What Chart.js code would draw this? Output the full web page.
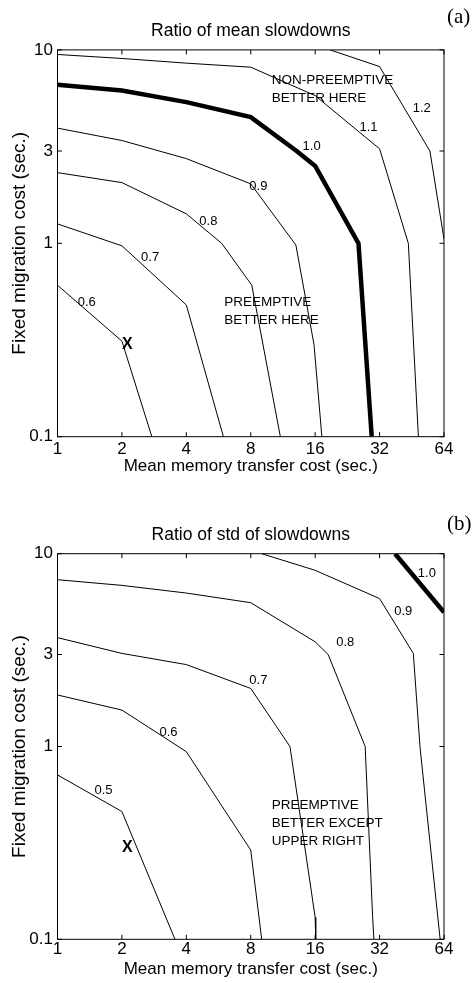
<!DOCTYPE html>
<html>
<head>
<meta charset="utf-8">
<script src="https://cdn.jsdelivr.net/npm/chart.js@4.4.0/dist/chart.umd.min.js"></script>
<style>
  html, body { margin: 0; padding: 0; background: #fff; overflow: hidden; }
  .panel { position: absolute; left: 0; width: 475px; }
  #panelA { top: 0; height: 490px; }
  #panelB { top: 490px; height: 493px; }
</style>
</head>
<body>
<div class="panel" id="panelA"><canvas id="meanChart"></canvas></div>
<div class="panel" id="panelB"><canvas id="stdChart"></canvas></div>
<script>
// axis ticks (both axes logarithmic)
const transferTicks = [1, 2, 4, 8, 16, 32, 64];
const migrationTicks = [0.1, 1, 3, 10];

// (a) ratio of mean slowdowns, contour lines as [transfer, migration] points
const meanLevels = [0.6, 0.7, 0.8, 0.9, 1.0, 1.1, 1.2];
const mean06 = [[1, 0.607], [2, 0.312], [2.76, 0.1]];
const mean07 = [[1, 1.26], [2, 0.97], [4, 0.48], [5.96, 0.1]];
const mean08 = [[1, 2.32], [2, 2.06], [4, 1.42], [5.85, 1], [8.09, 0.607], [11, 0.1]];
const mean09 = [[1, 3.94], [2, 3.4], [4, 2.74], [8, 2.03], [13, 0.98], [15.8, 0.3], [17.2, 0.1]];
const mean10 = [[1, 6.6], [2, 6.17], [4, 5.37], [8, 4.49], [13.1, 3], [16, 2.51], [25.5, 1], [29.4, 0.1]];
const mean11 = [[1, 9.47], [2, 9.03], [4, 8.54], [8, 8.14], [16, 5.8], [32, 3.08], [43.6, 1], [48.6, 0.1]];
const mean12 = [[18.8, 10], [32, 8.2], [55, 3], [64, 1.05]];

// (b) ratio of std of slowdowns
const stdLevels = [0.5, 0.6, 0.7, 0.8, 0.9, 1.0];
const std05 = [[1, 0.712], [2, 0.46], [3.54, 0.1]];
const std06 = [[1, 1.85], [2, 1.545], [4, 0.94], [8, 0.29], [9, 0.1]];
const std07 = [[1, 3.67], [2, 3.04], [4, 2.66], [8, 2.0], [12.2, 1], [16, 0.13], [16.1, 0.1]];
const std08 = [[1, 7.33], [2, 6.85], [4, 6.25], [8, 5.57], [16, 3.49], [18.4, 3], [27.4, 1], [29.7, 0.13], [30.1, 0.1]];
const std09 = [[9, 10], [16, 8.2], [32, 5.85], [46, 3.04], [49.5, 0.98], [61.4, 0.1]];
const std10 = [[37.8, 10], [64, 4.97]];

// operating point marked with an X in both panels
const operatingPoint = [2.12, 0.3];

const FONT = "'Liberation Sans', Arial, Helvetica, sans-serif";
Chart.defaults.font.family = FONT;
Chart.defaults.color = '#000';

// box with inward tick marks on all four sides, plus contour labels and notes
const framePlugin = {
  id: 'frame',
  afterDatasetsDraw(chart, args, opts) {
    const { ctx, chartArea: a, scales: { x, y } } = chart;
    ctx.save();
    ctx.strokeStyle = '#000';
    ctx.lineWidth = 1;
    ctx.strokeRect(a.left, a.top, a.right - a.left, a.bottom - a.top);
    ctx.beginPath();
    x.ticks.forEach(t => {
      const px = x.getPixelForValue(t.value);
      ctx.moveTo(px, a.bottom); ctx.lineTo(px, a.bottom - 4.5);
      ctx.moveTo(px, a.top); ctx.lineTo(px, a.top + 4.5);
    });
    y.ticks.forEach(t => {
      const py = y.getPixelForValue(t.value);
      ctx.moveTo(a.left, py); ctx.lineTo(a.left + 4.5, py);
      ctx.moveTo(a.right, py); ctx.lineTo(a.right - 4.5, py);
    });
    ctx.stroke();

    ctx.fillStyle = '#000';
    ctx.textBaseline = 'middle';

    // level labels beside each contour
    ctx.font = '13px ' + FONT;
    ctx.textAlign = 'center';
    opts.levels.forEach((lv, i) => {
      const [vx, vy] = opts.labelSpots[i];
      ctx.fillText(lv.toFixed(1), x.getPixelForValue(vx), y.getPixelForValue(vy));
    });

    // region notes
    ctx.font = '13.5px ' + FONT;
    ctx.textAlign = 'left';
    opts.notes.forEach(n => {
      ctx.fillText(n.text, x.getPixelForValue(n.at[0]), y.getPixelForValue(n.at[1]));
    });

    // operating point
    ctx.font = 'bold 16px ' + FONT;
    ctx.textAlign = 'center';
    ctx.fillText('X', x.getPixelForValue(operatingPoint[0]), y.getPixelForValue(operatingPoint[1]));

    // panel tag
    ctx.font = "21px 'Liberation Serif', 'Times New Roman', serif";
    ctx.textAlign = 'left';
    ctx.fillText(opts.tag, 447, opts.tagY);
    ctx.restore();
  }
};

function contourSets(levels, lines) {
  return lines.map((pts, i) => ({
    label: levels[i].toFixed(1),
    data: pts.map(p => ({ x: p[0], y: p[1] })),
    showLine: true,
    pointRadius: 0,
    borderColor: '#000',
    borderWidth: levels[i] === 1.0 ? 4.5 : 1,
    tension: 0,
    fill: false
  }));
}

function makeChart(id, cfg) {
  return new Chart(document.getElementById(id).getContext('2d'), {
    type: 'scatter',
    data: { datasets: contourSets(cfg.levels, cfg.lines) },
    options: {
      responsive: true,
      maintainAspectRatio: false,
      animation: false,
      layout: { padding: { left: 0, right: 31, top: 0, bottom: cfg.padBottom } },
      plugins: {
        legend: { display: false },
        tooltip: { enabled: false },
        title: {
          display: true,
          text: cfg.title,
          fullSize: false,
          color: '#000',
          font: { size: 17.5, weight: 'normal' },
          padding: { top: cfg.titleTop, bottom: 8 }
        },
        frame: { levels: cfg.levels, labelSpots: cfg.labelSpots, notes: cfg.notes, tag: cfg.tag, tagY: cfg.tagY }
      },
      scales: {
        x: {
          type: 'logarithmic',
          position: 'bottom',
          min: 1,
          max: 64,
          afterBuildTicks: s => { s.ticks = transferTicks.map(v => ({ value: v })); },
          afterFit: s => { s.height = 40; },
          grid: { display: false, drawTicks: false },
          border: { display: false },
          ticks: { autoSkip: false, maxRotation: 0, padding: cfg.tickPad, font: { size: 17 }, callback: v => String(v) },
          title: { display: true, text: 'Mean memory transfer cost (sec.)', font: { size: 17 }, padding: { top: 0, bottom: 0 } }
        },
        y: {
          type: 'logarithmic',
          position: 'left',
          min: 0.1,
          max: 10,
          afterBuildTicks: s => { s.ticks = migrationTicks.map(v => ({ value: v })); },
          afterFit: s => { s.width = 57.5; },
          grid: { display: false, drawTicks: false },
          border: { display: false },
          ticks: { autoSkip: false, padding: 4.5, font: { size: 17 }, callback: v => String(v) },
          title: { display: true, text: 'Fixed migration cost (sec.)', font: { size: 19 }, padding: { top: 8.6, bottom: 0 } }
        }
      }
    },
    plugins: [framePlugin]
  });
}

makeChart('meanChart', {
  title: 'Ratio of mean slowdowns',
  tag: '(a)', tagY: 17,
  titleTop: 20.9, padBottom: 13.3, tickPad: 2,
  levels: meanLevels,
  lines: [mean06, mean07, mean08, mean09, mean10, mean11, mean12],
  labelSpots: [[1.37, 0.497], [2.71, 0.85], [5.07, 1.29], [8.68, 1.97], [15.4, 3.17], [28.4, 3.96], [50.4, 4.96]],
  notes: [
    { text: 'NON-PREEMPTIVE', at: [10.03, 6.95] },
    { text: 'BETTER HERE', at: [10.03, 5.59] },
    { text: 'PREEMPTIVE', at: [6.02, 0.497] },
    { text: 'BETTER HERE', at: [6.02, 0.4] }
  ]
});

makeChart('stdChart', {
  title: 'Ratio of std of slowdowns',
  tag: '(b)', tagY: 34,
  titleTop: 34.7, padBottom: 3.7, tickPad: 0,
  levels: stdLevels,
  lines: [std05, std06, std07, std08, std09, std10],
  labelSpots: [[1.64, 0.595], [3.3, 1.19], [8.68, 2.21], [22.1, 3.45], [41.3, 4.99], [53.2, 7.88]],
  notes: [
    { text: 'PREEMPTIVE', at: [10.03, 0.498] },
    { text: 'BETTER EXCEPT', at: [10.03, 0.4] },
    { text: 'UPPER RIGHT', at: [10.03, 0.324] }
  ]
});
</script>
</body>
</html>
